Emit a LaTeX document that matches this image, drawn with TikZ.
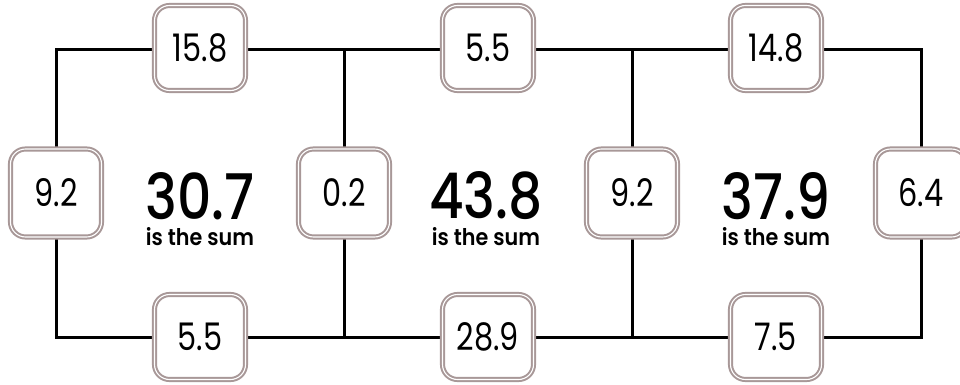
\documentclass[tikz,border=0pt]{standalone}
\usepackage{fontspec}
\setmainfont{Poppins}
\newfontfamily\boxfont{Poppins}[FakeStretch=0.8]
\newfontfamily\sumfont{Poppins Medium}[FakeStretch=0.85]
\newfontfamily\notefont{Poppins SemiBold}[FakeStretch=0.9]
\definecolor{boxgray}{RGB}{168,152,152}

\begin{document}
\begin{tikzpicture}[x=1pt, y=-1pt, every node/.style={inner sep=0pt},
    grid/.style={line width=3pt},
    numbox/.style={draw=boxgray, double=white, double distance=1.1pt, line width=2pt, fill=white, rounded corners=15pt, minimum width=91pt, minimum height=85pt, font=\boxfont\fontsize{38}{40}\selectfont},
    sidebox/.style={numbox, minimum height=88pt},
    total/.style={font=\sumfont\fontsize{63}{64}\selectfont},
    sumtext/.style={font=\notefont\fontsize{23}{24}\selectfont}]
    \useasboundingbox (0,0) rectangle (960,385);
    \foreach \i/\x in {1/56,2/344,3/632,4/921} {
        \coordinate (U\i) at (\x,50);
        \coordinate (D\i) at (\x,337);
    }
    % frame and cross lines
    \draw[grid] (U1) -- (U4) -- (D4) -- (D1) -- cycle;
    \draw[grid] (U2) -- (D2) (U3) -- (D3);
    % numbers on the edges
    \foreach \i/\x/\v in {1/200/15.8, 2/488/5.5, 3/776/14.8} \node[numbox] (T\i) at (\x,48) {\v};
    \foreach \i/\x/\v in {1/200/5.5, 2/488/28.9, 3/776/7.5} \node[numbox] (B\i) at (\x,337) {\v};
    \foreach \i/\x/\v in {1/56/9.2, 2/344/0.2, 3/632/9.2, 4/921/6.4} \node[sidebox] (S\i) at (\x,193) {\v};
    % sums
    \foreach \i/\x/\v in {1/200/30.7, 2/486/43.8, 3/776/37.9} {
        \node[total] (N\i) at (\x,196) {\v};
        \node[sumtext] (L\i) at (\x,237) {is the sum};
    }
\end{tikzpicture}
\end{document}
